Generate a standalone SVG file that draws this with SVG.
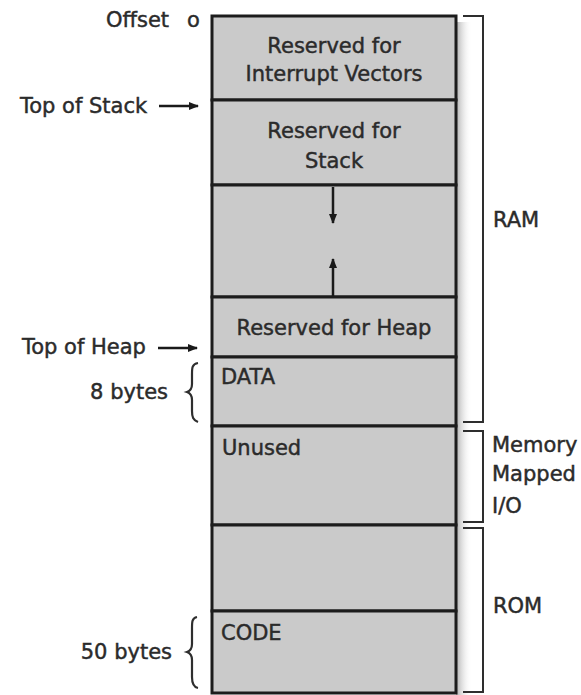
<svg xmlns="http://www.w3.org/2000/svg" width="581" height="695" viewBox="0 0 581 695">
  <defs>
    <linearGradient id="shade" x1="0" y1="0" x2="1" y2="0">
      <stop offset="0" stop-color="#9a9a9a" stop-opacity="0.8"/>
      <stop offset="1" stop-color="#ffffff" stop-opacity="0"/>
    </linearGradient>
    <marker id="head" viewBox="0 0 10 10" refX="9" refY="5" markerWidth="10" markerHeight="10" markerUnits="userSpaceOnUse" orient="auto">
      <path d="M0,1 L10,5 L0,9 Z" fill="#1a1a1a"/>
    </marker>
  </defs>
  <style>
    text { font-family: "DejaVu Sans", Verdana, sans-serif; font-size: 21px; fill: #2b2b2b; stroke: #2b2b2b; stroke-width: 0.45; }
    .mid { text-anchor: middle; }
    .end { text-anchor: end; }
    .block { fill: #cacaca; stroke: #1c1c1c; stroke-width: 3; }
    .bracket { fill: none; stroke: #2e2e2e; stroke-width: 2; }
    .brace { fill: none; stroke: #2e2e2e; stroke-width: 2.2; }
    .arrow { stroke: #1a1a1a; stroke-width: 2.5; marker-end: url(#head); }
  </style>

  <rect width="581" height="695" fill="#ffffff"/>

  <!-- soft shadow on the right of the memory column -->
  <rect x="456" y="22" width="16" height="673" fill="url(#shade)"/>

  <!-- memory map blocks -->
  <g id="interrupt-vectors">
    <rect class="block" x="212" y="16" width="244" height="84"/>
    <text class="mid" x="334" y="53">Reserved for</text>
    <text class="mid" x="334" y="81">Interrupt Vectors</text>
  </g>
  <g id="stack">
    <rect class="block" x="212" y="100" width="244" height="85"/>
    <text class="mid" x="334" y="138">Reserved for</text>
    <text class="mid" x="334" y="168">Stack</text>
  </g>
  <g id="free-space">
    <rect class="block" x="212" y="185" width="244" height="112"/>
  </g>
  <g id="heap">
    <rect class="block" x="212" y="297" width="244" height="60"/>
    <text class="mid" x="334" y="335">Reserved for Heap</text>
  </g>
  <g id="data">
    <rect class="block" x="212" y="357" width="244" height="69"/>
    <text x="221" y="384">DATA</text>
  </g>
  <g id="unused">
    <rect class="block" x="212" y="426" width="244" height="99"/>
    <text x="222" y="455">Unused</text>
  </g>
  <g id="rom-space">
    <rect class="block" x="212" y="525" width="244" height="86"/>
  </g>
  <g id="code">
    <rect class="block" x="212" y="611" width="244" height="82"/>
    <text x="221" y="640">CODE</text>
  </g>

  <!-- left-hand labels -->
  <g id="offset-label">
    <text x="106" y="27">Offset</text>
    <text x="187" y="27">o</text>
  </g>
  <g id="top-of-stack-label">
    <text x="20" y="113">Top of Stack</text>
  </g>
  <g id="top-of-heap-label">
    <text x="22" y="354">Top of Heap</text>
  </g>
  <g id="data-size">
    <text class="end" x="168" y="399">8 bytes</text>
    <path class="brace" d="M198,363 C192,364 192,368 192,374 L192,384 C192,389 190,391 187,392 C190,393 192,395 192,400 L192,411 C192,417 193,420 198,422"/>
  </g>
  <g id="code-size">
    <text class="end" x="172" y="659">50 bytes</text>
    <path class="brace" d="M197,617 C192,618 192,622 192,628 L192,644 C192,649 190,651 187,652 C190,653 192,655 192,660 L192,677 C192,683 193,687 198,688"/>
  </g>

  <!-- right-hand region brackets -->
  <g id="ram">
    <path class="bracket" d="M463,16 H483 V422 H463"/>
    <text x="493" y="227">RAM</text>
  </g>
  <g id="memory-mapped-io">
    <path class="bracket" d="M463,431 H483 V522 H463"/>
    <text x="492" y="452">Memory</text>
    <text x="492" y="481">Mapped</text>
    <text x="492" y="513">I/O</text>
  </g>
  <g id="rom">
    <path class="bracket" d="M463,528 H483 V692 H463"/>
    <text x="493" y="613">ROM</text>
  </g>

  <!-- connectors -->
  <g id="connectors">
    <line class="arrow" x1="159" y1="106" x2="198" y2="106"/>
    <line class="arrow" x1="158" y1="348" x2="197" y2="348"/>
    <line class="arrow" x1="333" y1="187" x2="333" y2="223"/>
    <line class="arrow" x1="333" y1="296" x2="333" y2="259"/>
  </g>
</svg>
